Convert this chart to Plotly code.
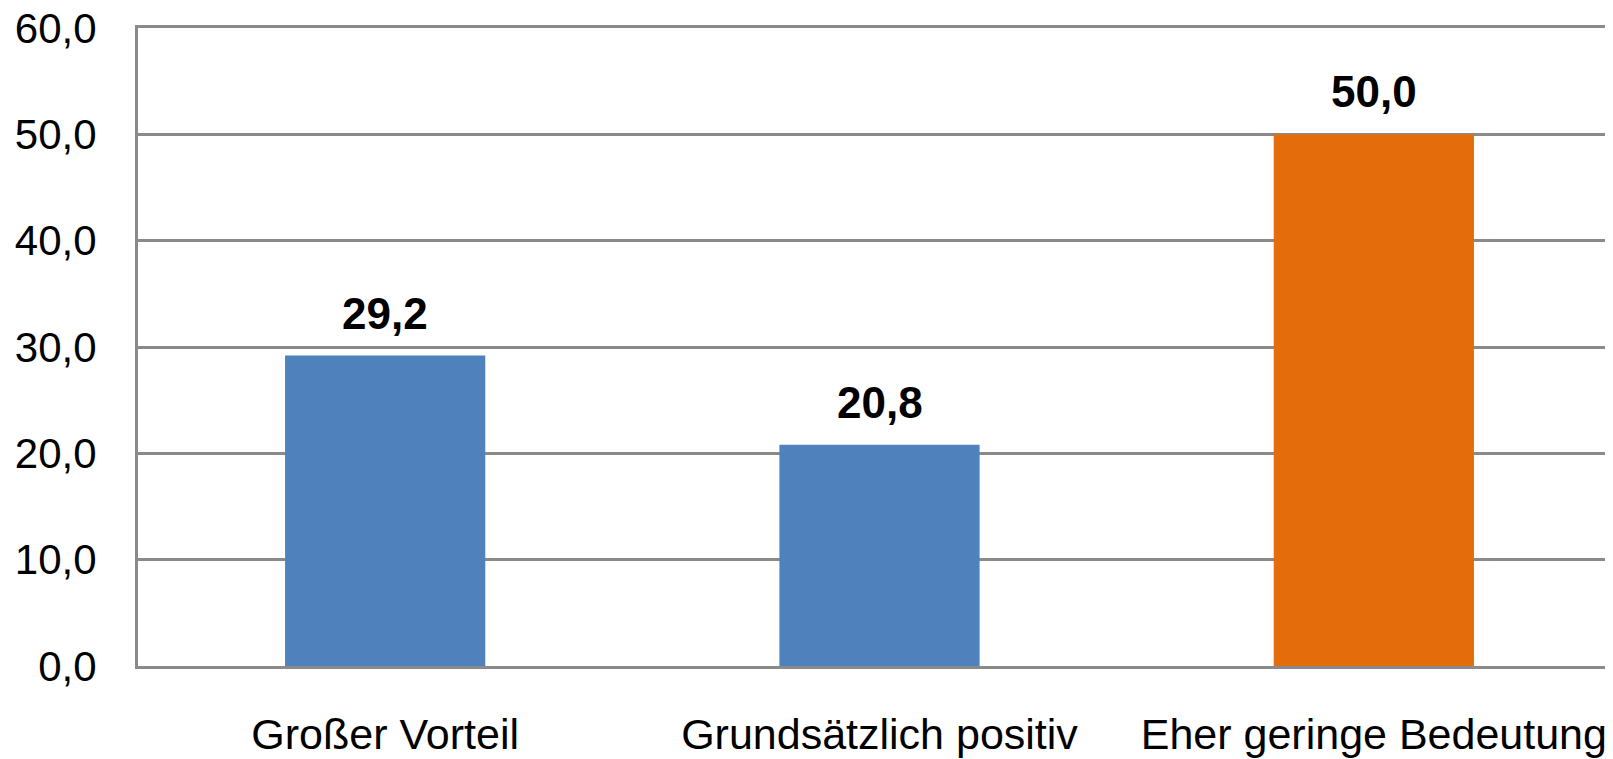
import plotly.graph_objects as go

# values
categories = ['Großer Vorteil', 'Grundsätzlich positiv', 'Eher geringe Bedeutung']
values = [29.2, 20.8, 50.0]
bar_colors = ['#4F81BD', '#4F81BD', '#E46C0A']
y_ticks = [0, 10, 20, 30, 40, 50, 60]

FONT = 'Liberation Sans, Arial, sans-serif'
GRID = '#8a8a8a'

fig = go.Figure(go.Bar(
    x=categories,
    y=values,
    marker=dict(color=bar_colors, line=dict(width=0)),
    width=0.405,
))

# bold value labels above the bars
for cat, val in zip(categories, values):
    fig.add_annotation(
        x=cat, y=val,
        text='<b>' + f'{val:.1f}'.replace('.', ',') + '</b>',
        showarrow=False,
        yanchor='bottom',
        yshift=16,
        font=dict(family=FONT, size=44, color='black'),
    )

# page body has an 8px margin, so the figure is offset by it
fig.update_layout(
    width=1613, height=759,
    margin=dict(l=130, r=0, t=20, b=101),
    paper_bgcolor='white',
    plot_bgcolor='white',
    separators=',.',
    showlegend=False,
    font=dict(family=FONT, color='black'),
)

fig.update_xaxes(
    range=[-0.5, 2.5],
    automargin=False,
    showline=True, linecolor=GRID, linewidth=3, mirror=True,
    showgrid=False, ticks='',
    tickfont=dict(family=FONT, size=43),
    ticklabelstandoff=28,
    ticklabeloverflow='allow',
)

fig.update_yaxes(
    range=[0, 60],
    automargin=False,
    tickvals=y_ticks,
    tickformat='.1f',
    showline=True, linecolor=GRID, linewidth=3,
    showgrid=True, gridcolor=GRID, gridwidth=2.5,
    zeroline=False, ticks='',
    tickfont=dict(family=FONT, size=42),
    ticklabelstandoff=30,
    ticklabeloverflow='allow',
)

fig.write_html("out.html")
